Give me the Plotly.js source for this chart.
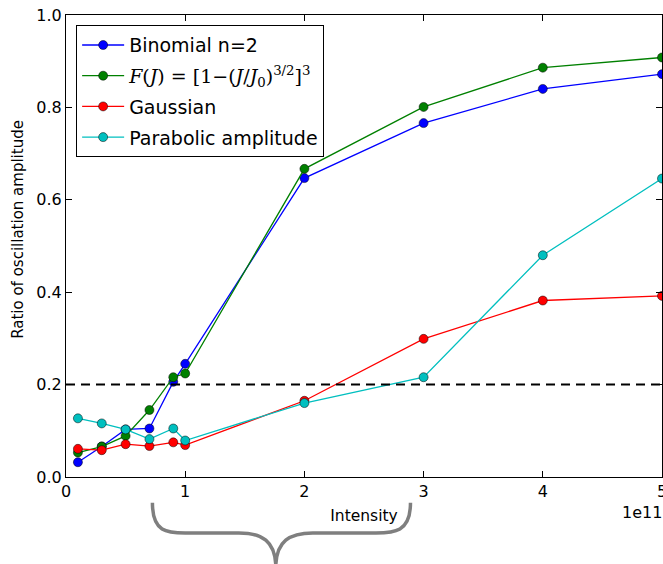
<!DOCTYPE html>
<html>
<head>
<meta charset="utf-8">
<script src="https://cdn.plot.ly/plotly-3.0.1.min.js"></script>
<style>html,body{margin:0;padding:0;background:#fff;}#chart{width:663px;height:564px;}</style>
</head>
<body>
<div id="chart"></div>
<script>
// Intensity (units of 1e11)
const intensity = [0.1, 0.3, 0.5, 0.7, 0.9, 1.0, 2, 3, 4, 5];
const binomial  = [0.032, 0.066, 0.103, 0.105, 0.206, 0.245, 0.647, 0.766, 0.840, 0.872];
const fjModel   = [0.053, 0.066, 0.089, 0.145, 0.216, 0.224, 0.667, 0.801, 0.886, 0.908];
const gaussian  = [0.061, 0.058, 0.071, 0.067, 0.075, 0.069, 0.165, 0.299, 0.382, 0.392];
const parabolic = [0.127, 0.116, 0.103, 0.082, 0.105, 0.079, 0.160, 0.216, 0.480, 0.646];
const seriesNames = [
  'Binomial n=2',
  '<span style="font-family:\'DejaVu Serif\'"><i>F</i>(<i>J</i>) = [1−(<i>J</i>/<i>J</i><sub>0</sub>)<sup>3/2</sup>]<sup>3</sup></span>',
  'Gaussian',
  'Parabolic amplitude'
];
const threshold = 0.2;
const xTicks = [0, 1, 2, 3, 4, 5];
const yTicks = [0.0, 0.2, 0.4, 0.6, 0.8, 1.0];
const yTitle = 'Ratio of oscillation amplitude';

const colors = ['#0000ff', '#008000', '#ff0000', '#00bfbf'];
const ys = [binomial, fjModel, gaussian, parabolic];

const traces = ys.map((y, i) => ({
  x: intensity, y: y, name: seriesNames[i], type: 'scatter', mode: 'lines+markers',
  legendgroup: 'g' + i,
  line: {color: colors[i], width: 1.3},
  marker: {color: colors[i], size: 9, line: {color: '#000', width: 0.5}},
  cliponaxis: false
}));

const layout = {
  width: 663, height: 564,
  margin: {l: 66, r: 1, t: 15, b: 87},
  paper_bgcolor: '#fff', plot_bgcolor: '#fff',
  font: {family: 'DejaVu Sans', size: 16, color: '#000'},
  showlegend: true,
  legend: {
    x: 0.017, y: 0.978, xanchor: 'left', yanchor: 'top',
    bgcolor: '#fff', bordercolor: '#000', borderwidth: 1,
    font: {family: 'DejaVu Sans', size: 19, color: '#000'},
    traceorder: 'grouped', tracegroupgap: 3, itemwidth: 42
  },
  xaxis: {
    range: [0, 5], tickvals: xTicks, ticktext: xTicks.map(String),
    ticks: 'inside', ticklen: 6, tickcolor: '#000',
    showline: true, linecolor: '#000', linewidth: 1, mirror: 'ticks',
    showgrid: false, zeroline: false, ticklabeloverflow: 'allow',
    tickfont: {size: 16},
    title: {text: 'Intensity', font: {size: 15.5}, standoff: 9}
  },
  yaxis: {
    range: [0, 1], tickvals: yTicks, ticktext: yTicks.map(v => v.toFixed(1)),
    ticks: 'inside', ticklen: 6, tickcolor: '#000',
    showline: true, linecolor: '#000', linewidth: 1, mirror: 'ticks',
    showgrid: false, zeroline: false,
    tickfont: {size: 16}
  },
  shapes: [
    {type: 'line', xref: 'paper', yref: 'y', x0: 0, x1: 1, y0: threshold, y1: threshold,
     line: {color: '#000', width: 2, dash: '9px,6px'}, layer: 'above'},
    // curly brace under the axis
    {type: 'path', xref: 'paper', yref: 'paper',
     path: 'M 0.145 -0.056 C 0.145 -0.12 0.17 -0.121 0.2 -0.121 L 0.29 -0.121 C 0.33 -0.121 0.35 -0.14 0.352 -0.19 ' +
           'C 0.354 -0.14 0.374 -0.121 0.414 -0.121 L 0.52 -0.121 C 0.55 -0.121 0.578 -0.12 0.578 -0.056',
     line: {color: '#7f7f7f', width: 3.5}}
  ],
  annotations: [
    {text: '1e11', xref: 'paper', yref: 'paper', x: 1, y: 0, xanchor: 'right', yanchor: 'top',
     xshift: 2, yshift: -24, showarrow: false, font: {size: 16}},
    {text: yTitle, xref: 'paper', yref: 'paper', x: -0.0805, y: 0.535, xanchor: 'center', yanchor: 'middle',
     textangle: -90, showarrow: false, font: {size: 15}}
  ]
};

Plotly.newPlot('chart', traces, layout, {displayModeBar: false, staticPlot: true});
</script>
</body>
</html>
